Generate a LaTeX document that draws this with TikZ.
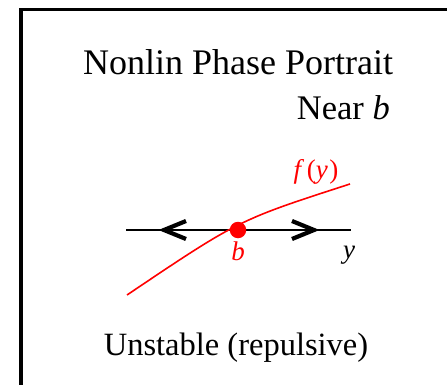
\documentclass[tikz,border=0pt]{standalone}
\usepackage{fontspec}
\setmainfont{Liberation Serif}
\tikzset{
  frameline/.style={line width=3.5pt, black},
  title/.style={inner sep=0pt, font=\fontsize{36}{42}\selectfont},
  subtitle/.style={inner sep=0pt, font=\fontsize{34.5}{40}\selectfont},
  bottomtext/.style={inner sep=0pt, font=\fontsize{32.5}{38}\selectfont},
  axisline/.style={line width=1.6pt, black},
  chevron/.style={line width=4.2pt, black, line join=miter},
  fcurve/.style={line width=1.6pt, red},
  lbl/.style={inner sep=0pt, font=\fontsize{27}{32}\selectfont},
}
\begin{document}
\begin{tikzpicture}[x=1pt,y=-1pt]
\useasboundingbox (0,0) rectangle (447,385);
% frame
\coordinate (fbl) at (21,390);
\coordinate (ftl) at (21,9.5);
\coordinate (ftr) at (450,9.5);
\draw[frameline] (fbl) -- (ftl) -- (ftr);
% titles
\node[title, anchor=base west] (t1) at (83,75) {Nonlin Phase Portrait};
\node[subtitle, anchor=base east] (t2) at (390,120) {Near \textit{b}};
\node[bottomtext, anchor=base] (t3) at (236,355) {Unstable (repulsive)};
% axis
\coordinate (al) at (126,230);
\coordinate (ar) at (351,230);
\draw[axisline] (al) -- (ar);
% curve
\coordinate (c0) at (127,295);
\coordinate (cc) at (238.5,220);
\coordinate (c1) at (350,184);
\draw[fcurve] (c0) .. controls (cc) .. (c1);
% chevrons
\coordinate (l1) at (186,221);
\coordinate (lt) at (164,230);
\coordinate (l2) at (186,239);
\draw[chevron] (l1) -- (lt) -- (l2);
\coordinate (r1) at (292,221);
\coordinate (rt) at (314,230);
\coordinate (r2) at (292,239);
\draw[chevron] (r1) -- (rt) -- (r2);
% dot
\node[circle, fill=red, inner sep=0pt, minimum size=16.5pt] (b) at (238,230) {};
% labels
\node[lbl, red] (fy) at (316,172) {\textit{f}\kern2.5pt(\textit{y}\kern1.5pt)};
\node[lbl, red] (bl) at (238,251) {\textit{b}};
\node[lbl] (yl) at (349,255) {\textit{y}};
\end{tikzpicture}
\end{document}
